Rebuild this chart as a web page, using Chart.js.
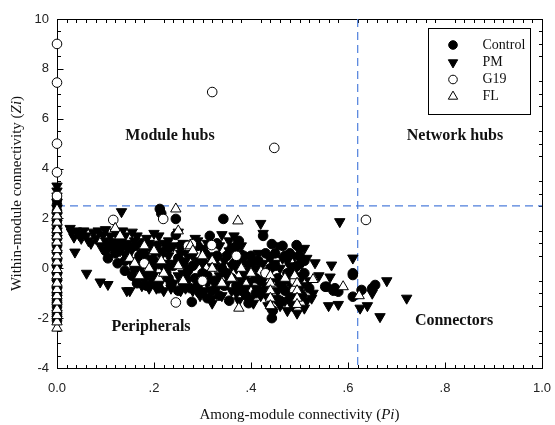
<!DOCTYPE html>
<html>
<head>
<meta charset="utf-8">
<script src="https://cdn.jsdelivr.net/npm/chart.js@4.4.1/dist/chart.umd.min.js"></script>
<style>
html,body{margin:0;padding:0;background:#fff;}
canvas{display:block;}
</style>
</head>
<body>
<canvas id="c" width="555" height="425"></canvas>
<script>
// ---- data (Pi, Zi) ----
const seriesNames = ["Control", "PM", "G19", "FL"];
const xTickLabels = ["0.0", ".2", ".4", ".6", ".8", "1.0"];
const yTickLabels = ["-4", "-2", "0", "2", "4", "6", "8", "10"];
const quadrantNames = ["Module hubs", "Network hubs", "Peripherals", "Connectors"];
const thresholds = [0.62, 2.5];

const controlPts = [
 [0,2.75],[0,2.55],[0,2.3],[0,2.0],[0,1.75],[0,1.45],[0,1.2],[0,0.9],[0,0.65],[0,0.35],[0,0.1],[0,-0.2],
 [0,-0.45],[0,-0.75],[0,-1.0],[0,-1.3],[0,-1.55],[0,-1.85],[0,-2.1],
 [0.1,0.7],[0.11,0.9],[0.12,0.6],[0.13,1.2],[0.14,0.3],[0.15,0.8],[0.16,0.0],[0.17,0.5],[0.175,1.0],[0.18,-0.3],
 [0.19,0.2],[0.2,-0.6],[0.205,0.9],[0.212,2.38],[0.215,2.2],[0.22,0.1],[0.23,-0.4],[0.245,1.98],[0.245,1.34],
 [0.25,0.4],[0.26,-0.6],[0.27,-0.1],[0.278,-1.35],[0.28,0.8],[0.29,-0.7],[0.3,0.3],[0.31,-0.3],[0.315,1.3],
 [0.32,-0.9],[0.33,0.5],[0.343,1.98],[0.35,-0.2],[0.36,0.8],[0.37,-0.7],[0.375,1.1],[0.38,0.3],[0.39,-1.1],
 [0.4,0.5],[0.41,-0.4],[0.42,-0.9],[0.425,1.3],[0.443,0.97],[0.443,-2.0],[0.45,0.1],[0.46,-0.6],[0.47,0.5],
 [0.48,-1.2],[0.494,0.93],[0.5,-0.4],[0.51,0.3],[0.52,-0.8],[0.553,-0.74],[0.556,-0.74],[0.57,-0.9],[0.573,-0.8],
 [0.58,-0.94],[0.61,-0.2],[0.61,-0.27],[0.61,-1.14],[0.628,-0.87],[0.656,-0.67],[0.65,-0.8],
 [0.105,0.4],[0.115,1.0],[0.125,0.2],[0.135,0.9],[0.14,-0.1],[0.145,0.5],[0.155,-0.3],[0.16,0.9],[0.165,-0.6],
 [0.17,0.2],[0.18,0.6],[0.185,-0.7],[0.19,0.9],[0.195,-0.2],[0.2,0.3],[0.21,-0.8],[0.215,0.6],[0.225,-0.1],
 [0.23,0.8],[0.235,-0.6],[0.24,0.1],[0.25,-0.9],[0.255,0.9],[0.26,0.2],[0.265,-0.3],[0.27,0.6],[0.275,-0.8],
 [0.28,0.1],[0.285,-0.4],[0.29,0.9],[0.295,-1.0],[0.3,-0.2],[0.305,0.6],[0.31,-1.2],[0.32,0.2],[0.325,-0.5],
 [0.33,1.0],[0.335,-1.1],[0.34,0.0],[0.345,-0.7],[0.35,0.5],[0.355,-1.3],[0.36,-0.4],[0.365,0.2],[0.37,0.9],
 [0.38,-0.9],[0.385,0.5],[0.39,-0.2],[0.395,-1.4],[0.4,0.1],[0.41,-1.0],[0.415,0.3],[0.42,-0.5],[0.43,0.6],
 [0.435,-1.1],[0.44,0.0],[0.445,-1.7],[0.45,0.6],[0.455,-0.4],[0.46,-1.3],[0.465,0.9],[0.47,-0.9],[0.475,-0.2],
 [0.48,0.6],[0.485,-0.5],[0.49,-1.4],[0.495,0.1],[0.5,0.5],[0.505,-1.1],[0.51,-0.2]
];
const pmPts = [
 [0,3.3],[0,3.1],[0,2.9],[0,2.65],[0,2.4],[0,2.1],[0,1.8],[0,1.5],[0,1.2],[0,0.9],[0,0.6],[0,0.3],[0,0.0],
 [0,-0.3],[0,-0.6],[0,-0.9],[0,-1.2],[0,-1.5],[0,-1.8],[0,-2.05],
 [0.027,1.6],[0.03,1.45],[0.035,1.25],[0.037,0.65],[0.055,1.5],[0.06,1.3],[0.061,-0.2],[0.065,1.1],[0.075,1.45],
 [0.08,1.2],[0.085,1.5],[0.089,-0.55],[0.09,0.9],[0.1,1.55],[0.105,-0.65],[0.11,1.3],[0.115,0.8],[0.125,1.0],
 [0.133,2.27],[0.135,1.5],[0.14,0.55],[0.144,-0.9],[0.15,-0.9],[0.155,1.45],[0.16,1.1],[0.165,0.3],[0.17,-0.1],
 [0.175,0.6],[0.18,-0.5],[0.185,1.2],[0.19,-0.8],[0.195,0.4],[0.2,0.0],[0.205,-0.3],[0.21,1.3],[0.215,0.7],
 [0.22,-0.9],[0.225,0.2],[0.23,1.1],[0.24,-0.6],[0.25,1.45],[0.255,0.6],[0.26,-0.2],[0.265,-0.8],[0.28,0.5],
 [0.29,1.1],[0.295,-0.4],[0.3,0.2],[0.305,-0.9],[0.31,1.0],[0.32,-1.2],[0.33,0.4],[0.335,-0.3],[0.34,1.35],
 [0.35,-0.6],[0.355,1.1],[0.36,0.1],[0.37,-1.0],[0.375,0.6],[0.38,-0.5],[0.39,0.2],[0.4,-1.2],[0.405,0.3],
 [0.41,-0.8],[0.42,1.8],[0.425,1.4],[0.43,-0.3],[0.435,0.5],[0.44,-1.3],[0.45,0.2],[0.455,-0.9],[0.46,-1.5],
 [0.465,0.4],[0.47,-0.5],[0.475,-1.7],[0.48,0.1],[0.485,-1.1],[0.49,-0.1],[0.495,-1.8],[0.5,0.7],[0.505,-0.7],
 [0.51,0.8],[0.515,-1.3],[0.528,-1.0],[0.532,0.22],[0.54,-0.3],[0.56,-1.5],[0.563,-0.35],[0.566,0.13],
 [0.58,-1.45],[0.583,1.87],[0.61,0.41],[0.625,-1.6],[0.64,-1.5],[0.65,-1.0],[0.666,-1.94],[0.68,-0.5],[0.721,-1.2],
 [0.04,1.5],[0.045,1.35],[0.05,1.2],[0.07,1.0],[0.095,1.35],[0.1,1.1],[0.105,0.9],[0.12,1.45],[0.13,0.7],
 [0.14,1.3],[0.145,1.0],[0.15,0.6],[0.155,0.2],[0.16,-0.4],[0.165,1.3],[0.17,0.9],[0.175,-0.7],[0.18,0.3],
 [0.185,-0.2],[0.19,1.0],[0.195,-0.5],[0.2,0.6],[0.2,1.4],[0.205,-0.8],[0.21,0.2],[0.215,-0.5],[0.22,1.0],
 [0.225,-0.3],[0.23,0.5],[0.235,-0.8],[0.24,0.9],[0.245,0.2],[0.25,-0.3],[0.255,-0.9],[0.26,1.0],[0.265,0.3],
 [0.27,-0.5],[0.275,0.0],[0.28,-0.9],[0.285,1.2],[0.29,0.3],[0.295,-1.1],[0.3,0.8],[0.305,-0.2],[0.31,-0.6],
 [0.315,0.5],[0.32,-1.4],[0.325,0.1],[0.33,-0.8],[0.335,0.9],[0.34,-1.1],[0.345,0.3],[0.35,-0.3],[0.355,0.7],
 [0.36,-0.9],[0.365,1.3],[0.37,0.0],[0.375,-1.3],[0.38,0.9],[0.385,-0.2],[0.39,-0.8],[0.395,0.5],[0.4,-0.5],
 [0.405,-1.4],[0.41,0.0],[0.415,0.6],[0.42,-1.1],[0.425,0.2],[0.43,-0.7],[0.435,-1.5],[0.44,0.4],[0.445,-0.4],
 [0.45,-1.2],[0.455,0.9],[0.46,0.0],[0.465,-0.8],[0.47,-1.3],[0.475,0.3],[0.48,-0.6],[0.485,-1.5],[0.49,0.5],
 [0.495,-0.3],[0.5,-1.0],[0.505,0.2],[0.51,-1.6],[0.515,0.4],[0.52,-0.5],[0.525,-1.2]
];
const g19Pts = [
 [0,9.0],[0,7.45],[0,5.0],[0,3.85],[0,2.9],
 [0.116,1.94],[0.219,1.98],[0.245,-1.37],[0.278,0.97],[0.319,0.93],[0.32,7.07],[0.448,4.83],[0.637,1.94],
 [0.18,0.2],[0.3,-0.5],[0.43,-0.2],[0.49,-0.5],[0.37,0.5],[0.27,0.9]
];
const flPts = [
 [0,-2.4],[0,-2.15],[0,-1.9],[0,-1.65],[0,-1.35],[0,-1.1],[0,-0.85],[0,-0.6],[0,-0.3],[0,-0.05],[0,0.25],
 [0,0.5],[0,0.75],[0,1.05],[0,1.3],[0,1.55],[0,1.85],[0,2.1],[0,2.35],
 [0.12,1.6],[0.13,1.3],[0.15,0.4],[0.16,0.2],[0.17,-0.3],[0.18,0.9],[0.19,0.0],[0.2,0.7],[0.21,-0.4],
 [0.215,0.3],[0.22,-0.2],[0.245,2.38],[0.25,1.5],[0.25,0.1],[0.26,-0.5],[0.275,0.9],[0.28,0.7],[0.3,0.5],
 [0.32,0.3],[0.32,0.0],[0.34,-0.6],[0.36,-0.4],[0.373,1.9],[0.375,-1.6],[0.38,0.0],[0.4,-0.2],[0.44,-0.3],
 [0.44,-0.6],[0.44,-0.9],[0.44,-1.2],[0.44,-1.5],[0.49,-0.3],[0.495,-0.6],[0.495,-0.9],[0.495,-1.2],
 [0.495,-1.45],[0.47,-0.4],[0.528,-0.45],[0.59,-0.74],[0.623,-1.1]
];

const toXY = a => a.map(p => ({x: p[0], y: p[1]}));
const SERIF = '"Liberation Serif", "Times New Roman", serif';
const SANS = '"Liberation Sans", Arial, sans-serif';
const CIRC_R = 4.8, TRI_R = 6;

const styles = [
  {pointStyle: 'circle', radius: CIRC_R, bg: '#000', rot: 0},
  {pointStyle: 'triangle', radius: TRI_R, bg: '#000', rot: 180},
  {pointStyle: 'circle', radius: CIRC_R, bg: '#fff', rot: 0},
  {pointStyle: 'triangle', radius: TRI_R, bg: '#fff', rot: 0}
];
const allData = [controlPts, pmPts, g19Pts, flPts];
const orders = [2, 3, 1, 0];

const datasets = seriesNames.map((n, i) => ({
  label: n,
  data: toXY(allData[i]),
  pointStyle: styles[i].pointStyle,
  pointRadius: styles[i].radius,
  pointRotation: styles[i].rot,
  pointBackgroundColor: styles[i].bg,
  pointBorderColor: '#000',
  pointBorderWidth: 1,
  showLine: false,
  clip: false,
  order: orders[i]
}));

function drawMarker(ctx, i, x, y) {
  const s = styles[i];
  const r = s.pointStyle === 'circle' ? 4.3 : 5.4;
  ctx.save();
  ctx.fillStyle = s.bg; ctx.strokeStyle = '#000'; ctx.lineWidth = 1;
  ctx.beginPath();
  if (s.pointStyle === 'circle') {
    ctx.arc(x, y, r, 0, Math.PI * 2);
  } else {
    const dir = s.rot ? 1 : -1;
    for (let k = 0; k < 3; k++) {
      const a = k * 2 * Math.PI / 3;
      const px = x + Math.sin(a) * r, py = y + dir * Math.cos(a) * r;
      if (k === 0) ctx.moveTo(px, py); else ctx.lineTo(px, py);
    }
    ctx.closePath();
  }
  ctx.fill(); ctx.stroke();
  ctx.restore();
}

const overlay = {
  id: 'overlay',
  beforeDatasetsDraw(chart) {
    const {ctx, chartArea: a, scales: {x, y}} = chart;
    ctx.save();
    ctx.strokeStyle = '#000'; ctx.lineWidth = 1;
    ctx.strokeRect(Math.round(a.left) + 0.5, Math.round(a.top) + 0.5, Math.round(a.right - a.left), Math.round(a.bottom - a.top));
    const xl = Math.round(a.left) + 0.5, xr = Math.round(a.right) + 0.5;
    const yt = Math.round(a.top) + 0.5, yb = Math.round(a.bottom) + 0.5;
    ctx.beginPath();
    for (let i = 0; i <= 50; i++) {
      const px = Math.round(x.getPixelForValue(i / 50)) + 0.5;
      const major = i % 10 === 0;
      const len = major ? 6 : 3.5;
      ctx.moveTo(px, yb); ctx.lineTo(px, yb - len);
      if (!major) { ctx.moveTo(px, yt); ctx.lineTo(px, yt + 3.5); }
    }
    for (let i = 0; i <= 28; i++) {
      const py = Math.round(y.getPixelForValue(-4 + i * 0.5)) + 0.5;
      const major = i % 4 === 0;
      const len = major ? 6 : 3.5;
      ctx.moveTo(xl, py); ctx.lineTo(xl + len, py);
      if (!major) { ctx.moveTo(xr, py); ctx.lineTo(xr - 3.5, py); }
    }
    ctx.stroke();
    ctx.strokeStyle = '#4f7fdc'; ctx.lineWidth = 1.2; ctx.setLineDash([8, 5]);
    const vx = x.getPixelForValue(thresholds[0]);
    const hy = y.getPixelForValue(thresholds[1]);
    ctx.beginPath();
    ctx.moveTo(vx, a.top); ctx.lineTo(vx, a.bottom);
    ctx.moveTo(a.left, hy); ctx.lineTo(a.right, hy);
    ctx.stroke();
    ctx.restore();
  },
  afterDraw(chart) {
    const {ctx, chartArea: a} = chart;
    ctx.save();
    ctx.fillStyle = '#111';
    ctx.font = 'bold 16px ' + SERIF;
    ctx.textAlign = 'center'; ctx.textBaseline = 'middle';
    ctx.fillText(quadrantNames[0], 170, 136);
    ctx.fillText(quadrantNames[1], 455, 136);
    ctx.fillText(quadrantNames[2], 151, 327);
    ctx.fillText(quadrantNames[3], 454, 321);
    ctx.fillStyle = '#fff';
    ctx.fillRect(428, 28, 102, 86);
    ctx.strokeStyle = '#000'; ctx.lineWidth = 1;
    ctx.strokeRect(428.5, 28.5, 102, 86);
    ctx.font = '14px ' + SERIF; ctx.textAlign = 'left'; ctx.textBaseline = 'middle';
    const rows = [45, 62.5, 79.5, 96.5];
    seriesNames.forEach((n, i) => {
      drawMarker(ctx, i, 453, rows[i]);
      ctx.fillStyle = '#111';
      ctx.fillText(n, 482.5, rows[i]);
    });
    function mixed(parts, cx, cy) {
      let w = 0;
      parts.forEach(p => { ctx.font = p[1] + '15px ' + SERIF; w += ctx.measureText(p[0]).width; });
      let sx = cx - w / 2;
      parts.forEach(p => { ctx.font = p[1] + '15px ' + SERIF; ctx.fillText(p[0], sx, cy); sx += ctx.measureText(p[0]).width; });
    }
    ctx.fillStyle = '#111'; ctx.textAlign = 'left'; ctx.textBaseline = 'middle';
    mixed([["Among-module connectivity (", ""], ["Pi", "italic "], [")", ""]], (a.left + a.right) / 2, 415);
    ctx.save();
    ctx.translate(17, (a.top + a.bottom) / 2);
    ctx.rotate(-Math.PI / 2);
    mixed([["Within-module connectivity (", ""], ["Zi", "italic "], [")", ""]], 0, 0);
    ctx.restore();
    ctx.restore();
  }
};

new Chart(document.getElementById('c'), {
  type: 'scatter',
  data: {datasets},
  options: {
    responsive: false,
    animation: false,
    devicePixelRatio: 1,
    layout: {padding: {left: 0, top: 19, right: 13, bottom: 0}},
    plugins: {legend: {display: false}, tooltip: {enabled: false}},
    scales: {
      x: {
        type: 'linear', min: 0, max: 1,
        grid: {display: false, drawTicks: false},
        border: {display: false},
        ticks: {
          stepSize: 0.2, padding: 13, color: '#222', font: {family: SANS, size: 13},
          maxRotation: 0, autoSkip: false,
          callback: (v, i) => xTickLabels[i]
        },
        afterFit: s => { s.height = 57; s.paddingLeft = 0; s.paddingRight = 0; }
      },
      y: {
        type: 'linear', min: -4, max: 10,
        grid: {display: false, drawTicks: false},
        border: {display: false},
        ticks: {
          stepSize: 2, padding: 8, color: '#222', font: {family: SANS, size: 13},
          autoSkip: false,
          callback: (v, i) => yTickLabels[i]
        },
        afterFit: s => { s.width = 57; s.paddingTop = 0; s.paddingBottom = 0; }
      }
    }
  },
  plugins: [overlay]
});
</script>
</body>
</html>
